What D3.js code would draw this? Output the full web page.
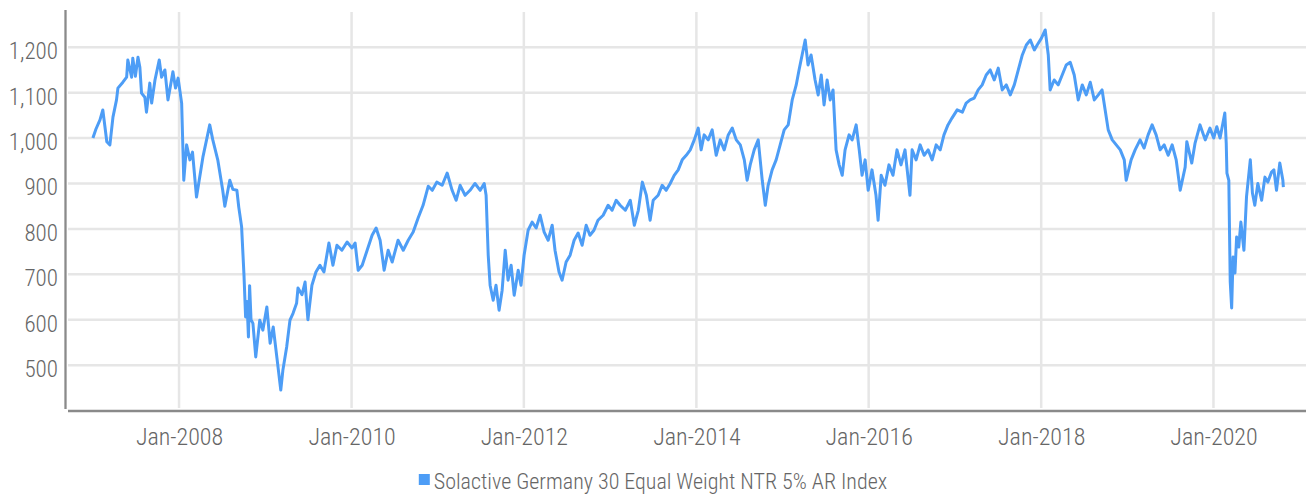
<!DOCTYPE html>
<html>
<head>
<meta charset="utf-8">
<script src="https://cdn.jsdelivr.net/npm/d3@7"></script>
<style>
  html, body { margin: 0; padding: 0; background: #fff; }
  svg { display: block; }
  text { font-family: "Roboto Condensed", "Liberation Sans Narrow", "DejaVu Sans Condensed", Roboto, sans-serif; fill: #666; }
</style>
</head>
<body>
<svg id="chart" width="1306" height="495"></svg>
<script>
// Index level, sampled along the series
const dates = [
  "2007-01-01","2007-01-14","2007-01-31","2007-02-12","2007-03-01","2007-03-14","2007-03-27","2007-04-11","2007-04-17","2007-05-08",
  "2007-05-24","2007-05-29","2007-06-14","2007-06-19","2007-06-30","2007-07-11","2007-07-19","2007-07-26","2007-08-09","2007-08-16",
  "2007-08-30","2007-09-07","2007-09-21","2007-10-09","2007-10-19","2007-11-02","2007-11-15","2007-11-30","2007-12-06","2007-12-17",
  "2007-12-28","2008-01-12","2008-01-21","2008-02-02","2008-02-16","2008-02-27","2008-03-15","2008-04-11","2008-05-10","2008-05-23",
  "2008-06-13","2008-07-04","2008-07-13","2008-08-03","2008-08-16","2008-09-02","2008-09-10","2008-09-22","2008-10-02","2008-10-09",
  "2008-10-15","2008-10-21","2008-10-26","2008-11-01","2008-11-09","2008-11-21","2008-12-08","2008-12-21","2009-01-07","2009-01-21",
  "2009-02-03","2009-02-19","2009-03-07","2009-03-16","2009-04-01","2009-04-15","2009-04-28","2009-05-13","2009-05-19","2009-06-05",
  "2009-06-18","2009-06-30","2009-07-17","2009-08-03","2009-08-20","2009-09-06","2009-09-27","2009-10-14","2009-10-31","2009-11-21",
  "2009-12-13","2010-01-03","2010-01-16","2010-01-29","2010-02-15","2010-03-08","2010-03-29","2010-04-15","2010-05-02","2010-05-19",
  "2010-06-05","2010-06-22","2010-07-17","2010-08-08","2010-08-29","2010-09-19","2010-10-10","2010-10-31","2010-11-22","2010-12-09",
  "2010-12-28","2011-01-20","2011-02-10","2011-03-03","2011-03-20","2011-04-06","2011-04-27","2011-05-18","2011-06-08","2011-06-30",
  "2011-07-17","2011-07-25","2011-08-03","2011-08-11","2011-08-24","2011-09-05","2011-09-18","2011-10-01","2011-10-14","2011-10-26",
  "2011-11-08","2011-11-21","2011-12-08","2011-12-20","2012-01-02","2012-01-19","2012-02-05","2012-02-22","2012-03-10","2012-03-27",
  "2012-04-13","2012-04-30","2012-05-12","2012-05-29","2012-06-11","2012-06-28","2012-07-15","2012-08-01","2012-08-18","2012-09-04",
  "2012-09-21","2012-10-07","2012-10-24","2012-11-10","2012-12-02","2012-12-23","2013-01-09","2013-01-26","2013-02-12","2013-03-06",
  "2013-03-27","2013-04-13","2013-04-30","2013-05-17","2013-06-03","2013-06-19","2013-07-02","2013-07-23","2013-08-09","2013-08-26",
  "2013-09-12","2013-09-29","2013-10-16","2013-11-02","2013-11-19","2013-12-06","2013-12-23","2014-01-09","2014-01-21","2014-02-03",
  "2014-02-20","2014-03-09","2014-03-26","2014-04-12","2014-04-29","2014-05-16","2014-06-02","2014-06-19","2014-07-06","2014-07-23",
  "2014-08-04","2014-08-17","2014-09-03","2014-09-20","2014-10-07","2014-10-20","2014-11-01","2014-11-18","2014-12-05","2014-12-22",
  "2015-01-08","2015-01-25","2015-02-11","2015-02-28","2015-03-12","2015-03-25","2015-04-07","2015-04-19","2015-05-02","2015-05-19",
  "2015-06-01","2015-06-14","2015-06-26","2015-07-09","2015-07-22","2015-08-03","2015-08-16","2015-08-29","2015-09-11","2015-09-23",
  "2015-10-10","2015-10-23","2015-11-09","2015-11-22","2015-12-04","2015-12-17","2015-12-30","2016-01-15","2016-02-01","2016-02-10",
  "2016-02-23","2016-03-10","2016-03-27","2016-04-13","2016-04-30","2016-05-17","2016-06-03","2016-06-24","2016-07-03","2016-07-20",
  "2016-08-06","2016-08-23","2016-09-09","2016-09-26","2016-10-13","2016-10-30","2016-11-15","2016-12-02","2016-12-19","2017-01-10",
  "2017-02-01","2017-02-17","2017-03-06","2017-03-23","2017-04-09","2017-04-26","2017-05-13","2017-05-30","2017-06-16","2017-07-03",
  "2017-07-20","2017-08-06","2017-08-23","2017-09-09","2017-09-26","2017-10-13","2017-10-30","2017-11-16","2017-12-03","2017-12-15",
  "2018-01-02","2018-01-18","2018-01-31","2018-02-08","2018-02-25","2018-03-14","2018-03-31","2018-04-17","2018-05-04","2018-05-21",
  "2018-06-07","2018-06-24","2018-07-11","2018-07-28","2018-08-14","2018-08-31","2018-09-16","2018-09-29","2018-10-12","2018-10-29",
  "2018-11-15","2018-12-02","2018-12-19","2018-12-27","2019-01-17","2019-02-03","2019-02-24","2019-03-13","2019-03-30","2019-04-16",
  "2019-05-03","2019-05-20","2019-06-06","2019-06-23","2019-07-10","2019-07-27","2019-08-13","2019-09-03","2019-09-10","2019-10-01",
  "2019-10-15","2019-11-05","2019-11-27","2019-12-17","2020-01-02","2020-01-15","2020-01-29","2020-02-18","2020-02-24","2020-02-27",
  "2020-03-06","2020-03-09","2020-03-12","2020-03-18","2020-03-24","2020-04-01","2020-04-08","2020-04-17","2020-04-26","2020-05-09",
  "2020-05-20","2020-06-05","2020-06-14","2020-06-24","2020-07-07","2020-07-23","2020-08-06","2020-08-18","2020-09-03","2020-09-13",
  "2020-09-24","2020-10-08","2020-10-21","2020-10-23"
];

const values = [
  1000,1020,1040,1062,992,985,1046,1084,1110,1123,
  1134,1172,1134,1176,1136,1178,1156,1099,1090,1057,
  1121,1077,1128,1172,1134,1150,1084,1128,1146,1110,
  1132,1077,907,985,952,969,870,958,1029,996,
  952,885,850,907,887,885,848,805,700,606,
  640,562,675,600,592,518,599,577,628,548,
  584,515,445,489,540,599,614,636,670,655,
  683,600,676,705,720,705,769,720,764,753,
  771,758,769,709,720,753,786,802,775,709,
  753,727,775,753,775,793,824,852,894,885,
  903,896,923,885,863,896,874,885,900,885,
  900,874,742,676,643,676,621,665,753,687,
  720,654,709,676,742,797,815,802,830,793,
  775,808,753,705,687,727,742,775,791,764,
  808,786,797,819,830,852,841,863,852,841,
  863,808,841,903,874,819,863,874,896,885,
  900,918,930,952,962,974,996,1022,974,1007,
  996,1018,962,996,974,1007,1022,996,985,952,
  907,941,974,996,907,852,896,930,952,985,
  1018,1029,1084,1117,1150,1183,1216,1161,1183,1128,
  1095,1139,1073,1128,1084,1106,974,941,918,974,
  1007,996,1029,974,918,952,885,930,874,819,
  918,896,941,918,974,941,974,874,974,952,
  985,962,974,952,985,974,1007,1029,1044,1062,
  1057,1077,1084,1088,1106,1117,1139,1150,1128,1154,
  1106,1117,1095,1117,1150,1183,1205,1216,1194,1205,
  1220,1238,1183,1106,1128,1117,1139,1161,1167,1139,
  1084,1117,1095,1123,1084,1095,1106,1062,1018,996,
  985,974,952,907,952,974,996,978,1007,1029,
  1007,974,985,962,985,952,885,936,992,945,
  989,1029,996,1022,1000,1025,1000,1055,989,923,
  907,791,683,626,738,703,782,760,815,753,
  871,952,879,852,900,863,914,903,925,930,
  885,945,907,892
];

const yTicks = [500, 600, 700, 800, 900, 1000, 1100, 1200];
const xTickYears = [2008, 2010, 2012, 2014, 2016, 2018, 2020];
const seriesName = "Solactive Germany 30 Equal Weight NTR 5% AR Index";

const W = 1306, H = 495;
const plot = { left: 66, right: 1306, top: 10, bottom: 411 };
const lineColor = "#4d9df6";

const parse = d3.timeParse("%Y-%m-%d");
const points = dates.map((d, i) => ({ date: parse(d), value: values[i] }));

const x = d3.scaleTime()
  .domain([new Date(2006, 8, 9), new Date(2021, 0, 27)])
  .range([plot.left, plot.right]);

const y = d3.scaleLinear()
  .domain([399, 1282])
  .range([plot.bottom, plot.top]);

const svg = d3.select("#chart");

// horizontal gridlines
svg.append("g")
  .selectAll("line")
  .data(yTicks)
  .join("line")
  .attr("x1", plot.left + 2)
  .attr("x2", plot.right)
  .attr("y1", d => y(d))
  .attr("y2", d => y(d))
  .attr("stroke", "#e6e6e6")
  .attr("stroke-width", 2.5);

// vertical gridlines at each labelled January
const xTicks = xTickYears.map(yr => new Date(yr, 0, 1));
svg.append("g")
  .selectAll("line")
  .data(xTicks)
  .join("line")
  .attr("x1", d => x(d))
  .attr("x2", d => x(d))
  .attr("y1", plot.top + 2)
  .attr("y2", plot.bottom - 3)
  .attr("stroke", "#e6e6e6")
  .attr("stroke-width", 2.5);

// y axis labels
const yAxis = d3.axisLeft(y)
  .tickValues(yTicks)
  .tickFormat(d3.format(","))
  .tickSize(0)
  .tickPadding(8);
const gy = svg.append("g").attr("transform", `translate(${plot.left},0)`).call(yAxis);
gy.select(".domain").remove();
gy.selectAll("text")
  .attr("dy", "0.5em")
  .style("font-size", "23px")
  .style("font-weight", 300)
  .style("font-family", null)
  .attr("fill", "#666");

// x axis labels
const xAxis = d3.axisBottom(x)
  .tickValues(xTicks)
  .tickFormat(d3.timeFormat("%b-%Y"))
  .tickSize(0)
  .tickPadding(17);
const gx = svg.append("g").attr("transform", `translate(0,${plot.bottom})`).call(xAxis);
gx.select(".domain").remove();
gx.selectAll("text")
  .style("font-size", "24px")
  .style("font-weight", 300)
  .style("font-family", null)
  .attr("fill", "#666");

// axis lines
svg.append("line")
  .attr("x1", plot.left - 0.5).attr("x2", plot.left - 0.5)
  .attr("y1", plot.top).attr("y2", plot.bottom - 2)
  .attr("stroke", "#8a8a8a").attr("stroke-width", 2.3);
svg.append("line")
  .attr("x1", plot.left + 2).attr("x2", plot.right)
  .attr("y1", plot.bottom).attr("y2", plot.bottom)
  .attr("stroke", "#8a8a8a").attr("stroke-width", 2.5);

// the index line
const line = d3.line()
  .x(d => x(d.date))
  .y(d => y(d.value))
  .curve(d3.curveLinear);

svg.append("path")
  .datum(points)
  .attr("d", line)
  .attr("fill", "none")
  .attr("stroke", lineColor)
  .attr("stroke-width", 3)
  .attr("stroke-linejoin", "round");

// legend
const legend = svg.append("g");
legend.append("rect")
  .attr("width", 11).attr("height", 11)
  .attr("fill", lineColor);
const lt = legend.append("text")
  .attr("x", 15)
  .attr("y", 15)
  .style("font-size", "22px")
  .style("font-weight", 300)
  .text(seriesName);
const legendWidth = 15 + lt.node().getComputedTextLength();
legend.attr("transform", `translate(${(W - legendWidth) / 2},474)`);
</script>
</body>
</html>
